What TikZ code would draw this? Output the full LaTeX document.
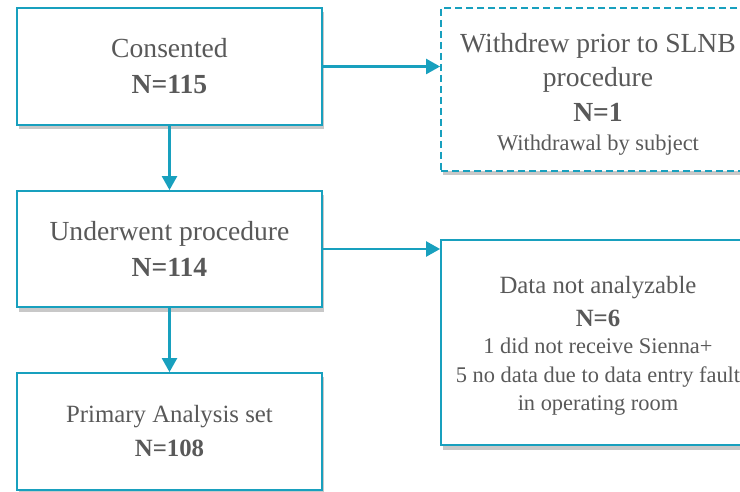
\documentclass[tikz,border=0pt]{standalone}
\usepackage{fontspec}
\setmainfont{Liberation Serif}
\usetikzlibrary{arrows.meta}
\definecolor{teal1}{RGB}{24,160,190}
\definecolor{txt}{RGB}{89,89,89}
\definecolor{shadowc}{RGB}{200,200,200}
\tikzset{
  box/.style={draw=teal1, line width=1.8pt, fill=white, align=center, text=txt,
    inner sep=0pt},
  dbox/.style={box, dash pattern=on 7pt off 4pt},
  boxshadow/.style={fill=shadowc, draw=none},
  conn/.style={draw=teal1, line width=2.4pt, -{Triangle[length=14pt,width=15pt]}},
  bigf/.style={font=\fontsize{27.6}{36}\selectfont},
  midf/.style={font=\fontsize{24.8}{34}\selectfont},
}
\newcommand{\smallline}{\fontsize{22.4}{28.5}\selectfont}
\begin{document}
\begin{tikzpicture}[x=1pt,y=-1pt]
\useasboundingbox (0,0) rectangle (740,492);
\clip (0,0) rectangle (740,492);
% shadows
\fill[boxshadow] (18.5,12) rectangle (324,129.5);
\fill[boxshadow] (18.5,195) rectangle (324,311.5);
\fill[boxshadow] (18.5,377) rectangle (324,494);
\fill[boxshadow] (442.5,12) rectangle (760,175.5);
\fill[boxshadow] (442.5,244) rectangle (760,449.5);
% boxes
\node[box, bigf, minimum width=305pt, minimum height=117pt] (c) at (169.5,66.5)
  {Consented\\\textbf{N=115}};
\node[box, bigf, minimum width=305pt, minimum height=116pt] (u) at (169.5,249)
  {Underwent procedure\\\textbf{N=114}};
\node[box, midf, minimum width=305pt, minimum height=117pt] (p) at (169.5,431.5)
  {Primary Analysis set\\\textbf{N=108}};
\node[dbox, minimum width=314pt, minimum height=163pt] (w) at (598,89.5) {};
\node[font=\fontsize{27.6}{34.5}\selectfont, text=txt, align=center] (wt) at (598,77)
  {Withdrew prior to SLNB\\procedure\\\textbf{N=1}};
\node[font=\smallline, text=txt] (ws) at (598,145) {Withdrawal by subject};
\node[box, minimum width=314pt, minimum height=205pt] (d) at (598,342.5) {};
\node[font=\fontsize{24.8}{33}\selectfont, text=txt, align=center] (dt) at (598,301.5)
  {Data not analyzable\\\textbf{N=6}};
\node[font=\smallline, text=txt, align=center] (ds) at (598,377)
  {1 did not receive Sienna+\\5 no data due to data entry fault\\in operating room};
\draw[conn] (c.south) -- (u.north);
\draw[conn] (u.south) -- (p.north);
\draw[conn] (c.east) -- (c.east -| w.west);
\draw[conn] (u.east) -- (u.east -| d.west);
\end{tikzpicture}
\end{document}
